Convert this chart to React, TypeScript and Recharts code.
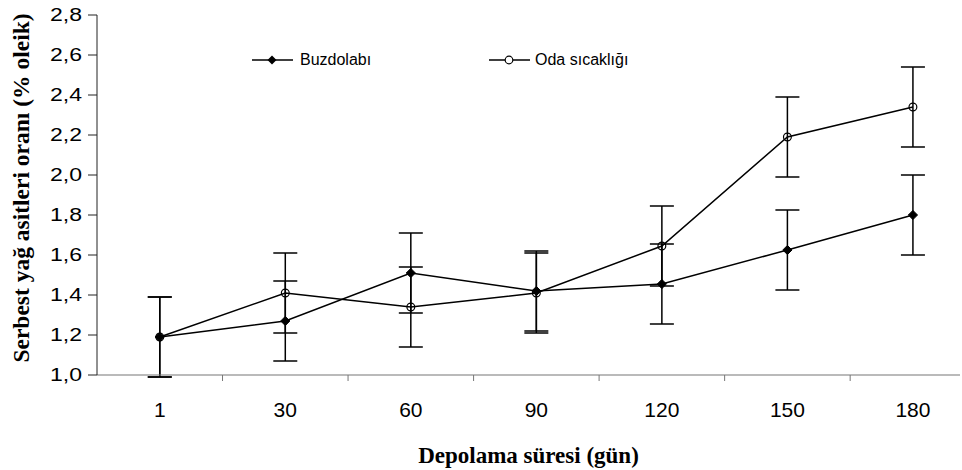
import React from "react";
import { LineChart, Line, XAxis, YAxis, ErrorBar, Legend, Label } from "recharts";

const days = ["1", "30", "60", "90", "120", "150", "180"];
const buzdolabi = [1.19, 1.27, 1.51, 1.42, 1.455, 1.625, 1.8];
const buzErr = [0.2, 0.2, 0.2, 0.2, 0.2, 0.2, 0.2];
const odaSicakligi = [1.19, 1.41, 1.34, 1.41, 1.645, 2.19, 2.34];
const odaErr = [0.2, 0.2, 0.2, 0.2, 0.2, 0.2, 0.2];
const yTicks = [1.0, 1.2, 1.4, 1.6, 1.8, 2.0, 2.2, 2.4, 2.6, 2.8];
const xTicks = [0, 0.5, 1, 1.5, 2, 2.5, 3, 3.5, 4, 4.5, 5, 5.5, 6];

const rows = days.map((d, i) => ({
  idx: i,
  day: d,
  buz: buzdolabi[i],
  buzErr: buzErr[i],
  oda: odaSicakligi[i],
  odaErr: odaErr[i],
}));

const SANS = "'Liberation Sans', Arial, sans-serif";
const SERIF = "'Liberation Serif', 'Times New Roman', serif";

const DiamondDot = (props: any) => {
  const { cx, cy, index } = props;
  if (cx == null || cy == null) return <g key={`d${index}`} />;
  const s = 4.6;
  return (
    <polygon
      key={`d${index}`}
      points={`${cx},${cy - s} ${cx + s},${cy} ${cx},${cy + s} ${cx - s},${cy}`}
      fill="#000"
      stroke="#000"
      strokeWidth={1}
    />
  );
};

const CircleDot = (props: any) => {
  const { cx, cy, index } = props;
  if (cx == null || cy == null) return <g key={`c${index}`} />;
  return <circle key={`c${index}`} cx={cx} cy={cy} r={3.9} fill="none" stroke="#000" strokeWidth={1.2} />;
};

const XTick = (props: any) => {
  const { x, y, payload } = props;
  const v = payload.value;
  if (Math.abs(v - Math.round(v)) > 0.01) {
    return <line x1={x} x2={x} y1={y} y2={y + 6} stroke="#777" strokeWidth={1} />;
  }
  return (
    <text x={x} y={y + 42} textAnchor="middle" fontFamily={SANS} fontSize={21} fill="#000">
      {days[Math.round(v)]}
    </text>
  );
};

const YTick = (props: any) => {
  const { x, y, payload } = props;
  const label = Number(payload.value).toFixed(1).replace(".", ",");
  return (
    <g transform={`translate(${x},${y}) scale(1.28,1)`}>
      <text x={0} y={0} dy="0.36em" textAnchor="end" fontFamily={SANS} fontSize={18} fill="#000">
        {label}
      </text>
    </g>
  );
};

const LegendContent = () => (
  <div style={{ position: "relative", width: 420, height: 20, fontFamily: SANS, fontSize: 16, color: "#000" }}>
    <div style={{ position: "absolute", left: 0, top: 0, display: "flex", alignItems: "center", whiteSpace: "nowrap" }}>
      <svg width={41} height={20}>
        <line x1={0} x2={41} y1={10} y2={10} stroke="#000" strokeWidth={1.5} />
        <polygon points="20,5.5 24.5,10 20,14.5 15.5,10" fill="#000" />
      </svg>
      <span style={{ marginLeft: 7, lineHeight: "20px" }}>Buzdolabı</span>
    </div>
    <div style={{ position: "absolute", left: 237, top: 0, display: "flex", alignItems: "center", whiteSpace: "nowrap" }}>
      <svg width={41} height={20}>
        <line x1={0} x2={16} y1={10} y2={10} stroke="#000" strokeWidth={1.5} />
        <line x1={24} x2={41} y1={10} y2={10} stroke="#000" strokeWidth={1.5} />
        <circle cx={20} cy={10} r={3.8} fill="none" stroke="#000" strokeWidth={1.2} />
      </svg>
      <span style={{ marginLeft: 5, lineHeight: "20px" }}>Oda sıcaklığı</span>
    </div>
  </div>
);

export default function App() {
  return (
    <div style={{ position: "absolute", left: 0, top: 0, width: 962, height: 470, background: "#fff" }}>
      <LineChart width={962} height={470} data={rows} margin={{ top: 15, right: 2, bottom: 0, left: 0 }}>
        <XAxis
          dataKey="idx"
          type="number"
          domain={[-0.5, 6.375]}
          ticks={xTicks}
          interval={0}
          tickSize={0}
          tickMargin={0}
          tickLine={false}
          tick={<XTick />}
          height={95}
          axisLine={{ stroke: "#777", strokeWidth: 1.2 }}
          allowDataOverflow
        >
          <Label
            content={(p: any) => {
              const vb = p.viewBox || {};
              return (
                <text
                  x={vb.x + vb.width / 2}
                  y={vb.y + 88}
                  textAnchor="middle"
                  fontFamily={SERIF}
                  fontWeight="bold"
                  fontSize={23}
                  fill="#000"
                >
                  Depolama süresi (gün)
                </text>
              );
            }}
          />
        </XAxis>
        <YAxis
          type="number"
          domain={[1, 2.8]}
          ticks={yTicks}
          interval={0}
          width={97}
          tickSize={9}
          tickMargin={6}
          tick={<YTick />}
          tickLine={{ stroke: "#222", strokeWidth: 1 }}
          axisLine={{ stroke: "#222", strokeWidth: 1 }}
          allowDataOverflow
        >
          <Label
            content={(p: any) => {
              const vb = p.viewBox || {};
              const cx = 21;
              const cy = vb.y + vb.height / 2 - 7;
              return (
                <text
                  x={cx}
                  y={cy}
                  transform={`rotate(-90, ${cx}, ${cy})`}
                  textAnchor="middle"
                  dominantBaseline="central"
                  fontFamily={SERIF}
                  fontWeight="bold"
                  fontSize={23.5}
                  fill="#000"
                >
                  Serbest yağ asitleri oranı (% oleik)
                </text>
              );
            }}
          />
        </YAxis>
        <Legend
          layout="horizontal"
          verticalAlign="middle"
          align="center"
          content={<LegendContent />}
          wrapperStyle={{ top: 50, left: 252, width: 420, height: 20 }}
        />
        <Line
          type="linear"
          dataKey="oda"
          name="Oda sıcaklığı"
          stroke="#000"
          strokeWidth={1.5}
          dot={CircleDot}
          activeDot={false}
          isAnimationActive={false}
        >
          <ErrorBar dataKey="odaErr" width={12} stroke="#000" strokeWidth={1.5} direction="y" isAnimationActive={false} />
        </Line>
        <Line
          type="linear"
          dataKey="buz"
          name="Buzdolabı"
          stroke="#000"
          strokeWidth={1.5}
          dot={DiamondDot}
          activeDot={false}
          isAnimationActive={false}
        >
          <ErrorBar dataKey="buzErr" width={12} stroke="#000" strokeWidth={1.5} direction="y" isAnimationActive={false} />
        </Line>
      </LineChart>
    </div>
  );
}
